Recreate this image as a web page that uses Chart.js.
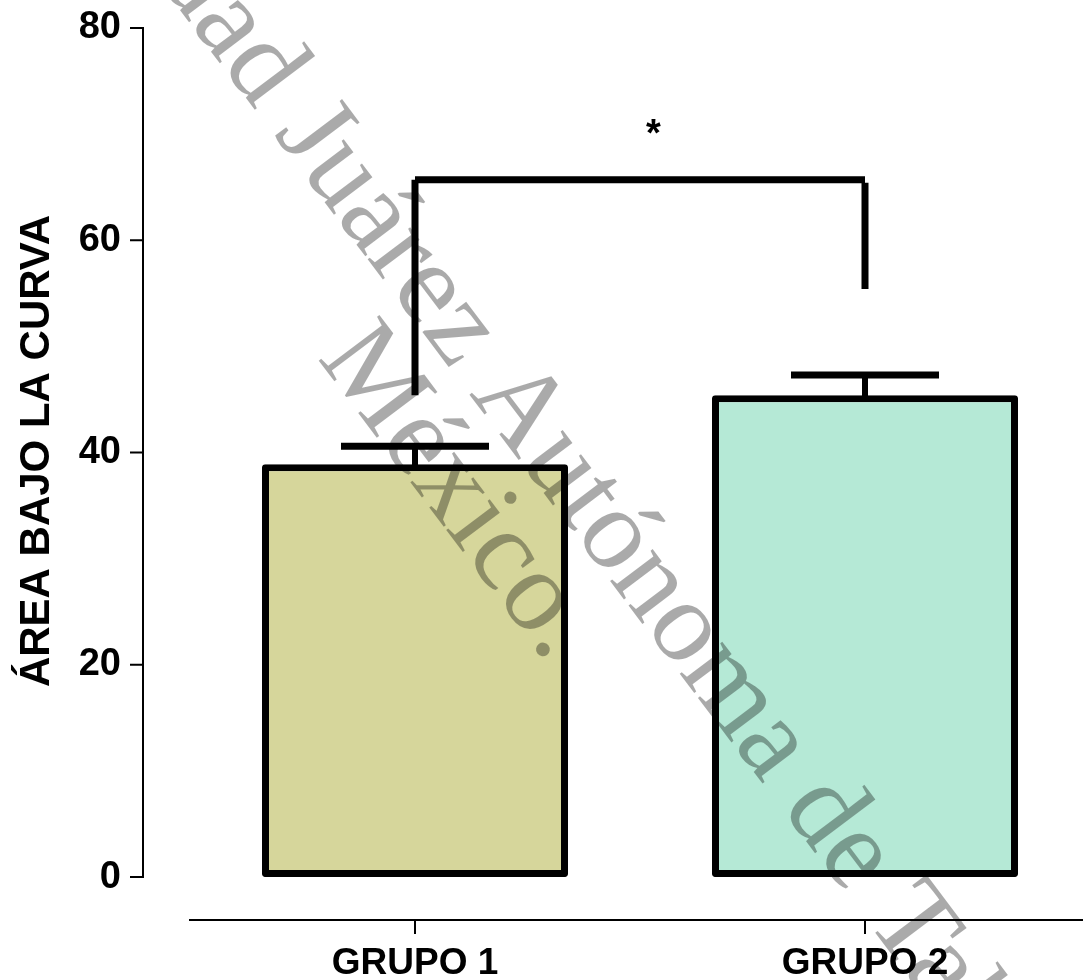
<!DOCTYPE html>
<html>
<head>
<meta charset="utf-8">
<script src="https://cdn.jsdelivr.net/npm/chart.js@4.4.1/dist/chart.umd.min.js"></script>
<style>
    html, body { margin: 0; padding: 0; background: #fff; overflow: hidden; }
    #wrap { width: 1083px; height: 980px; overflow: hidden; }
</style>
</head>
<body>
<div id="wrap"><canvas id="myChart" width="1090" height="980"></canvas></div>
<script>
const groups = ['GRUPO 1', 'GRUPO 2'];
const means = [38.9, 45.4];
const semUpper = [1.7, 1.9];
const yTicks = [0, 20, 40, 60, 80];
const barColors = ['#D6D69B', '#B5E9D6'];
// significance bracket: top, leg ends, star position (x in category index)
const bracketTop = 65.7;
const bracketLegs = [45.4, 55.4];
const starPos = [0.53, 70.7];
const starText = '*';
const yTitle = 'ÁREA BAJO LA CURVA';
const watermark = ['Universidad Juárez Autónoma de Tabasco.', 'México.'];

const AXIS_X = 143;

const extras = {
    id: 'extras',
    afterDatasetsDraw(chart) {
        const { ctx, scales: { x, y } } = chart;
        ctx.save();
        ctx.strokeStyle = '#000';
        ctx.lineCap = 'butt';

        // error bars (upper only)
        means.forEach((m, i) => {
            const cx = x.getPixelForValue(i);
            const top = y.getPixelForValue(m + semUpper[i]);
            ctx.lineWidth = 6;
            ctx.beginPath();
            ctx.moveTo(cx, y.getPixelForValue(m) + 3);
            ctx.lineTo(cx, top);
            ctx.stroke();
            ctx.lineWidth = 7;
            ctx.beginPath();
            ctx.moveTo(cx - 74, top);
            ctx.lineTo(cx + 74, top);
            ctx.stroke();
        });

        // bracket
        const x0 = x.getPixelForValue(0), x1 = x.getPixelForValue(1);
        const yt = y.getPixelForValue(bracketTop);
        ctx.lineWidth = 7;
        ctx.beginPath();
        ctx.moveTo(x0, y.getPixelForValue(bracketLegs[0]));
        ctx.lineTo(x0, yt);
        ctx.moveTo(x0, yt);
        ctx.lineTo(x1, yt);
        ctx.moveTo(x1, yt + 3);
        ctx.lineTo(x1, y.getPixelForValue(bracketLegs[1]));
        ctx.stroke();

        // star
        ctx.fillStyle = '#000';
        ctx.font = 'bold 38px "Liberation Sans", Arial, sans-serif';
        ctx.textAlign = 'center';
        ctx.textBaseline = 'alphabetic';
        const mt = ctx.measureText(starText);
        const sy = y.getPixelForValue(starPos[1]) + (mt.actualBoundingBoxAscent - mt.actualBoundingBoxDescent) / 2;
        ctx.fillText(starText, x.getPixelForValue(starPos[0]), sy);

        // detached y axis line + ticks
        ctx.lineWidth = 2;
        ctx.beginPath();
        ctx.moveTo(AXIS_X, y.getPixelForValue(yTicks[0]) + 1);
        ctx.lineTo(AXIS_X, y.getPixelForValue(yTicks[yTicks.length - 1]) - 1);
        yTicks.forEach(t => {
            const py = y.getPixelForValue(t);
            ctx.moveTo(AXIS_X - 13, py);
            ctx.lineTo(AXIS_X, py);
        });
        ctx.stroke();

        // y title
        ctx.save();
        ctx.translate(37, 451);
        ctx.rotate(-Math.PI / 2);
        ctx.font = 'bold 42px "Liberation Sans", Arial, sans-serif';
        ctx.textBaseline = 'middle';
        ctx.fillText(yTitle, 0, 0);
        ctx.restore();

        ctx.restore();
    },
    afterDraw(chart) {
        const { ctx } = chart;
        ctx.save();
        ctx.translate(512, 451);
        ctx.rotate(53 * Math.PI / 180);
        ctx.font = '116px "Liberation Serif", "Times New Roman", serif';
        ctx.fillStyle = 'rgba(0,0,0,0.333)';
        ctx.textAlign = 'center';
        ctx.textBaseline = 'alphabetic';
        watermark.forEach((line, i) => ctx.fillText(line, 0, i * 100));
        ctx.restore();
    }
};

const ctx = document.getElementById('myChart').getContext('2d');
new Chart(ctx, {
    type: 'bar',
    data: {
        labels: groups,
        datasets: [{
            data: means,
            backgroundColor: barColors,
            borderColor: '#000',
            borderWidth: 7,
            borderSkipped: false,
            borderRadius: 3,
            barPercentage: 0.68,
            categoryPercentage: 1,
        }],
    },
    options: {
        responsive: false,
        animation: false,
        layout: {
            padding: { top: 28, left: 0, right: 0, bottom: 0 },
        },
        plugins: {
            legend: { display: false },
            tooltip: { enabled: false },
        },
        scales: {
            y: {
                min: -4.05,
                max: 80,
                afterFit: s => { s.width = 190; s.paddingTop = 0; s.paddingBottom = 0; },
                afterBuildTicks: s => { s.ticks = yTicks.map(v => ({ value: v })); },
                ticks: {
                    color: '#000',
                    padding: 69,
                    font: { family: '"Liberation Sans", Arial, sans-serif', size: 38, weight: 'bold' },
                },
                grid: { display: false, drawTicks: false },
                border: { display: false },
            },
            x: {
                afterFit: s => { s.height = 60; },
                ticks: {
                    color: '#000',
                    padding: 8,
                    font: { family: '"Liberation Sans", Arial, sans-serif', size: 37, weight: 'bold' },
                },
                grid: {
                    display: true,
                    drawOnChartArea: false,
                    offset: false,
                    tickLength: 14,
                    color: '#000',
                    lineWidth: 2,
                },
                border: { display: true, color: '#000', width: 2 },
            },
        },
    },
    plugins: [extras],
});
</script>
</body>
</html>
